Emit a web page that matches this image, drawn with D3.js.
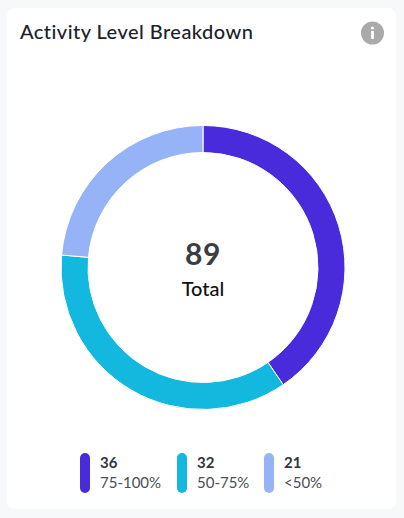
<!DOCTYPE html>
<html><head><meta charset="utf-8">
<script src="https://cdn.jsdelivr.net/npm/d3@7/dist/d3.min.js"></script>
<style>html,body{margin:0;padding:0;background:#f7f8fa;overflow:hidden}svg{display:block;font-family:Lato,sans-serif}</style>
</head><body><svg id="c" width="404" height="518"></svg>
<script>
const categories = ["75-100%", "50-75%", "<50%"];
const values = [36, 32, 21];
const colors = ["#4a2bdc", "#13b8de", "#97b3f8"];
const title = "Activity Level Breakdown";
const totalLabel = "Total";

const svg = d3.select("#c");
svg.append("rect").attr("x",7).attr("y",8).attr("width",389).attr("height",501).attr("rx",8).attr("fill","#fff");
svg.append("text").attr("x",20).attr("y",39).attr("font-size",20).attr("font-weight",500).attr("letter-spacing",0.45).attr("fill","#1d2129").text(title);

const info = svg.append("g").attr("transform","translate(372.5,33)");
info.append("circle").attr("r",11.5).attr("fill","#aaaaaa");
info.append("circle").attr("cy",-5).attr("r",1.6).attr("fill","#fff");
info.append("rect").attr("x",-1.4).attr("y",-2).attr("width",2.8).attr("height",8).attr("fill","#fff");

const pie = d3.pie().sort(null).value(d=>d);
const arc = d3.arc().innerRadius(115).outerRadius(142);
const g = svg.append("g").attr("transform","translate(203,267.5)");
g.selectAll("path").data(pie(values)).join("path").attr("d",arc).attr("fill",(d,i)=>colors[i]).attr("stroke","#fff").attr("stroke-width",1);
g.append("text").attr("text-anchor","middle").attr("y",-3).attr("font-size",30).attr("font-weight",700).attr("letter-spacing",0.5).attr("fill","#3a3d42").text(d3.sum(values));
g.append("text").attr("text-anchor","middle").attr("y",28).attr("font-size",20).attr("font-weight",500).attr("fill","#111").text(totalLabel);

const xs = [80,177,264];
const lg = svg.append("g");
categories.forEach((c,i)=>{
  const it = lg.append("g").attr("transform",`translate(${xs[i]},453)`);
  it.append("rect").attr("width",10).attr("height",40).attr("rx",5).attr("fill",colors[i]);
  it.append("text").attr("x",20).attr("y",15).attr("font-size",15).attr("font-weight",700).attr("fill","#33363b").text(values[i]);
  it.append("text").attr("x",20).attr("y",35).attr("font-size",15).attr("fill","#4a4e55").text(c);
});
</script></body></html>
